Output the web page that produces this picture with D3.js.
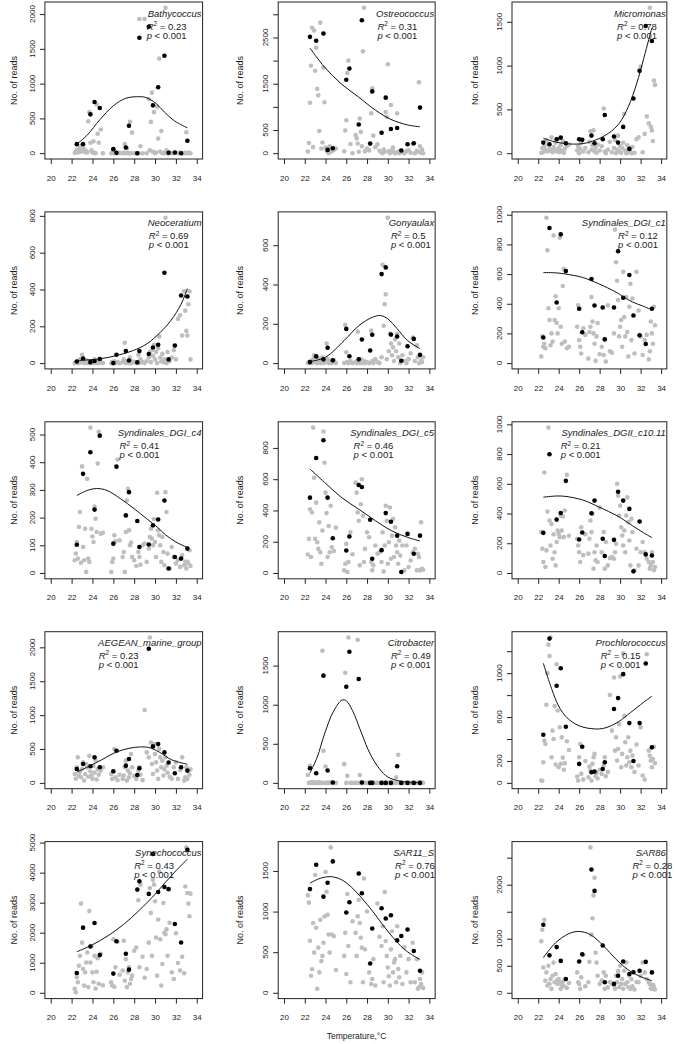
<!DOCTYPE html>
<html><head><meta charset="utf-8">
<script src="https://cdn.jsdelivr.net/npm/d3@7"></script>
<style>
body{margin:0;background:#fff}
svg{display:block}
text{font-family:"Liberation Sans",Arial,sans-serif;fill:#1a1a1a}
</style>
</head><body>
<svg id="chart" width="675" height="1044"></svg>
<script>
// ---------------- DATA ----------------
const TAXA = ["Bathycoccus","Ostreococcus","Micromonas","Neoceratium","Gonyaulax","Syndinales_DGI_c1",
  "Syndinales_DGI_c4","Syndinales_DGI_c5","Syndinales_DGII_c10.11","AEGEAN_marine_group","Citrobacter","Prochlorococcus",
  "Synechococcus","SAR11_S","SAR86"];
const R2_TEXT = ["0.23","0.31","0.78","0.69","0.5","0.12","0.41","0.46","0.21","0.23","0.49","0.15","0.43","0.76","0.28"];
const P_TEXT = "< 0.001";
const X_TICKS = [20,22,24,26,28,30,32,34];

// temperature of the highlighted (black) samples, shared by all panels
const TEMP_BLACK = [22.5,23.1,23.8,24.2,24.7,26.0,26.3,27.2,27.5,28.3,28.5,29.4,29.8,30.3,30.9,31.3,31.9,32.5,33.1];
// temperature of all (grey) samples, shared by all panels
const TEMP_GRAY = [
  22.3,22.4,22.5,22.6,22.7,22.8,22.9,23.0,23.1,23.2,23.3,23.4,23.5,23.6,
  23.7,23.8,23.9,24.0,24.1,24.2,24.3,24.4,24.5,24.6,24.8,25.0,
  25.8,25.9,26.0,26.1,26.2,26.4,26.6,
  26.9,27.0,27.1,27.2,27.3,27.4,27.5,27.6,27.7,27.8,28.0,
  28.2,28.4,28.5,28.6,28.8,29.0,
  29.2,29.4,29.5,29.6,29.7,29.8,29.9,30.0,30.1,30.2,30.3,30.4,30.5,30.6,30.7,30.8,30.9,31.0,31.1,31.2,31.4,31.6,
  31.8,32.0,32.2,32.4,32.6,32.8,32.9,33.0,33.1,33.2,33.3,33.4];

const bathyGray = [5,20,50,10,30,80,20,120,40,60,15,30,10,460, 590,150,40,10,170,5,0,700,280,150,340,0, 0,5,60,0,10,0,5, 0,10,130,0,70,5,0,450,0,295,0, 0,0,1930,100,0,1930, 0,780,40,450,870,20,590,0,10,670,210,1360,20,320,0,5,0,2090,40,0,10,0, 0,5,0,10,0,0,5,300,0,10,0,0];
const bathyBlack = [130,130,558,736,649,58,5,82,394,0,1659,1818,688,947,1400,5,10,0,178];
const bathyFit = [[22.5,130],[23.5,260],[24.7,480],[26.0,680],[27.2,790],[28.5,812],[29.1,802],[30.1,715],[30.9,590],[31.9,460],[33.1,365]];

const ostreoGray = [36,220,1090,1890,2710,130,2650,1780,2280,1390,1250,480,2820,100, 230,1850,1100,120,60,30,0,150,90,40,70,100, 40,490,710,1730,2000,200,0, 390,320,210,30,750,460,150,2200,3140,40,100, 60,860,1400,380,130,190, 50,20,0,80,30,890,780,1920,40,0,1040,60,120,20,0,10,860,30,0,50,20,0, 40,60,10,200,0,50,30,1530,150,10,80,0];
const ostreoBlack = [2513,2428,2585,71,107,1585,1828,621,2870,207,1335,443,1200,521,543,57,193,214,985];
const ostreoFit = [[22.5,2270],[23.9,1860],[25.5,1500],[27.2,1210],[28.8,930],[30.3,730],[31.9,610],[33.1,570]];

const microGray = [5,60,10,80,40,150,20,100,50,30,180,10,70,40, 120,20,160,60,10,90,30,140,5,50,80,100, 30,80,0,50,120,20,60, 10,130,250,40,90,260,20,60,5,100,30, 80,510,20,0,40,130, 10,60,150,0,40,200,20,80,5,60,120,450,30,0,90,10,50,20,0,70,5,160, 180,990,10,220,420,340,1660,300,260,140,830,780];
const microBlack = [121,102,159,178,114,159,152,201,114,159,436,190,121,300,49,625,940,1452,1281];
const microFit = [[22.5,170],[23.8,125],[25.1,105],[26.4,110],[27.6,150],[28.9,230],[29.9,340],[30.8,530],[31.6,790],[32.3,1080],[32.8,1300],[33.1,1430]];

const neoGray = [0,5,0,10,0,20,5,45,10,0,5,15,0,10, 0,5,0,10,0,20,5,0,10,0,5,0, 0,5,0,10,0,5,0, 5,20,110,0,10,5,0,30,0,10,5, 0,45,0,20,5,0, 10,30,60,5,70,40,100,20,60,0,80,145,30,10,50,5,20,790,0,60,10,30, 70,20,240,260,150,390,285,175,150,320,390,20];
const neoBlack = [9,25,5,11,22,0,45,65,14,4,65,49,85,99,491,20,95,367,362];
const neoFit = [[22.5,14],[24.7,23],[26.3,41],[27.9,68],[29.2,104],[30.5,167],[31.5,230],[32.5,320],[33.1,405]];

const gonyGray = [0,5,0,10,0,20,40,5,35,0,10,20,0,5, 30,0,10,5,100,20,0,10,5,0,15,0, 0,195,55,5,0,10,0, 5,0,160,10,0,20,5,0,10,0,5, 0,165,10,0,20,5, 0,30,500,190,300,350,20,740,60,150,100,40,80,10,120,60,150,30,100,0,40,10, 0,20,50,130,10,90,30,0,40,10,5,30];
const gonyBlack = [5,34,19,78,14,174,35,19,120,64,144,453,487,145,135,12,86,123,42];
const gonyFit = [[22.5,8],[24.0,30],[25.8,115],[27.2,190],[28.5,233],[29.3,242],[30.0,225],[30.9,175],[31.9,115],[33.1,73]];

const c1Gray = [45,180,110,130,100,980,760,370,290,120,200,145,860,290, 450,270,200,370,845,245,130,520,635,145,100,110, 245,390,155,110,65,235,190, 30,210,245,445,280,200,130,15,180,270,60, 110,55,155,10,390,80, 70,200,900,680,555,425,180,245,290,110,615,310,180,445,210,45,380,535,155,435,65,615, 355,180,55,155,190,25,80,280,200,130,380,255];
const c1Black = [172,911,408,868,620,366,208,567,388,375,161,375,754,440,594,321,187,129,366];
const c1Fit = [[22.5,610],[23.8,608],[24.7,600],[26.3,578],[27.9,535],[29.6,478],[30.3,448],[31.2,412],[32.2,385],[33.1,358]];

const c4Gray = [46,70,112,52,166,220,37,385,94,46,160,4,340,52, 40,525,160,132,112,240,196,148,395,510,142,145, 4,40,52,136,114,410,118, 58,76,4,148,262,304,154,100,110,58,46, 25,76,58,30,100,106, 40,88,130,160,124,100,195,112,58,290,154,136,100,40,130,76,28,292,220,70,16,94, 58,34,46,22,64,28,40,16,40,34,82,25];
const c4Black = [102,358,436,229,496,106,384,208,292,188,94,103,172,193,262,16,58,52,88];
const c4Fit = [[22.5,280],[23.5,298],[24.4,305],[25.4,298],[26.7,268],[28.0,232],[29.2,196],[30.2,166],[31.0,138],[32.0,112],[33.1,92]];

const c5Gray = [118,218,408,102,387,930,609,218,450,197,154,324,133,59, 271,905,705,514,383,102,300,133,430,165,140,290, 17,59,186,6,70,260,120, 578,514,387,334,49,440,600,366,70,154,260, 229,70,17,49,176,123, 133,70,260,10,176,430,334,59,197,419,91,239,345,102,292,176,133,59,207,112,176,17, 176,38,80,133,154,17,123,102,17,324,27,21];
const c5Black = [482,736,849,482,222,144,233,563,550,341,91,146,383,328,239,6,250,123,239];
const c5Fit = [[22.5,665],[23.9,580],[25.5,485],[27.2,408],[28.8,335],[30.3,272],[31.9,228],[33.1,205]];

const c10Gray = [275,163,74,676,40,152,413,978,353,185,330,96,260,140, 51,208,286,263,241,386,286,380,241,420,660,250, 230,185,140,74,308,120,260, 130,230,353,275,397,29,140,85,185,74,440, 140,275,29,208,51,100, 107,96,140,196,600,520,386,453,308,252,185,286,140,386,509,342,219,51,364,275,18,163, 51,140,208,140,96,74,29,51,140,74,18,40];
const c10Black = [270,799,359,404,620,225,272,402,487,230,114,223,547,487,431,11,346,125,118];
const c10Fit = [[22.5,510],[23.8,518],[24.7,515],[26.4,490],[27.9,445],[29.7,385],[30.3,360],[31.2,318],[32.3,270],[33.1,238]];

const aegeanGray = [130,60,230,377,108,166,83,205,303,34,132,279,230,90, 400,171,110,60,250,150,330,50,200,120,180,230, 132,59,160,499,83,40,120, 59,108,230,328,34,181,83,142,425,230,100, 59,181,230,120,40,1075, 450,377,2145,597,279,132,572,425,303,181,59,499,377,230,328,108,200,377,254,150,90,60, 230,303,59,191,377,34,83,230,59,181,120,200];
const aegeanBlack = [205,279,245,377,230,171,474,254,352,117,215,1980,538,572,450,300,142,230,181];
const aegeanFit = [[22.5,160],[23.8,255],[25.0,350],[26.2,450],[27.5,510],[28.5,530],[29.4,522],[30.4,455],[31.6,340],[33.1,275]];

const citroGray = [100,0,220,0,10,0,0,5,0,0,0,10,0,0, 1690,410,0,210,0,0,0,5,0,0,0,0, 240,1410,0,90,1860,0,0, 0,0,1830,0,100,0,0,0,0,0,0, 0,0,0,0,0,0, 0,0,0,0,0,0,0,0,0,0,0,0,0,0,0,70,0,360,0,0,0,0, 0,0,0,0,0,0,0,0,0,0,0,0];
const citroBlack = [187,124,1372,158,5,1231,1678,1329,5,0,0,0,0,0,213,0,0,0,0];
const citroFit = [[22.5,125],[23.2,330],[23.9,625],[24.8,925],[25.6,1060],[26.0,1050],[26.6,925],[27.5,625],[28.3,370],[29.2,180],[30.0,75],[31.3,20],[33.1,2]];

const prochGray = [21,20,188,385,354,712,1000,1260,1157,1325,233,476,400,700, 167,1081,660,142,506,173,415,230,120,180,380,300, 58,21,233,354,82,30,200, 52,148,112,21,173,233,264,60,90,40,120, 82,158,233,60,100,800, 476,960,294,415,203,309,536,970,142,264,1180,612,370,158,233,415,188,294,142,250,100,350, 158,506,67,30,1173,294,248,203,142,218,330,180];
const prochBlack = [439,1315,885,1045,512,173,330,97,103,127,188,673,773,991,545,200,545,1088,324];
const prochFit = [[22.5,1090],[23.3,860],[24.0,700],[24.8,595],[26.0,520],[27.5,492],[28.5,500],[29.8,555],[31.0,640],[32.3,735],[33.1,790]];

const synGray = [130,20,520,350,900,1230,2970,1670,790,240,680,1010,1340,190, 2720,1010,1560,680,350,1230,140,700,1150,300,1300,250, 350,240,1780,200,850,1700,600, 740,1730,400,1120,190,680,850,300,460,570,1400, 1510,3080,850,3600,1200,500, 790,1670,3490,2660,1230,3760,3600,3050,1840,570,2440,4040,1780,240,960,2990,2000,1950,2110,1230,2330,680, 460,1980,990,740,1200,650,3540,4840,3320,2970,2550,3300];
const synBlack = [661,2169,1541,2323,1255,639,1718,1299,771,3435,3710,3292,4624,3358,3523,3450,2290,1674,4760];
const synFit = [[22.5,1365],[24.0,1600],[25.5,1900],[27.0,2280],[28.5,2750],[30.0,3280],[31.0,3680],[32.0,4060],[33.1,4450]];

const sar11Gray = [1200,1110,640,210,290,860,495,1450,800,50,556,251,900,390, 454,616,940,1488,1245,961,718,495,1790,718,700,280, 454,738,231,1216,576,130,880, 738,454,941,1143,860,677,556,130,1407,535,1000, 251,109,170,414,89,1100, 690,576,819,130,1240,637,454,312,203,89,535,758,251,373,414,130,819,292,191,454,109,560, 251,414,130,616,130,414,49,69,170,109,251,60];
const sar11Black = [1277,1577,1184,1354,1618,989,1115,1468,1225,361,791,1040,915,955,645,700,779,515,272];
const sar11Fit = [[22.5,1350],[23.5,1410],[24.5,1430],[25.5,1395],[26.5,1300],[27.5,1165],[28.5,1010],[29.5,840],[30.5,680],[31.5,545],[32.3,470],[33.1,410]];

const sar86Gray = [955,1167,468,1350,225,377,134,499,164,255,73,316,559,195, 347,225,164,255,195,73,150,200,120,250,90,180, 377,195,164,73,286,700,120, 195,572,2690,1076,1380,1800,2130,742,559,316,164, 225,377,73,316,100,200, 164,134,73,316,195,400,103,499,164,255,73,407,164,559,195,103,316,73,250,120,60,200, 195,316,559,377,255,195,164,85,73,150,110,60];
const sar86Black = [1259,693,845,590,255,578,711,2280,1885,875,195,164,316,578,347,380,407,572,377];
const sar86Fit = [[22.5,650],[23.7,925],[25.0,1095],[26.0,1135],[27.1,1075],[28.4,865],[29.6,620],[30.9,410],[32.1,290],[33.1,225]];

// y-axis tick values and the tick labels that are printed
const Y_TICKS = [
  [0,500,1000,1500,2000],[0,500,1000,1500,2000,2500,3000],[0,500,1000,1500],
  [0,200,400,600,800],[0,200,400,600],[0,200,400,600,800,1000],
  [0,100,200,300,400,500],[0,200,400,600,800],[0,200,400,600,800,1000],
  [0,500,1000,1500,2000],[0,500,1000,1500],[0,200,400,600,800,1000,1200],
  [0,1000,2000,3000,4000,5000],[0,500,1000,1500],[0,500,1000,1500,2000,2500]];
const Y_LABELS = [
  [0,500,1000,1500,2000],[0,500,1500,2500],[0,500,1000,1500],
  [0,200,400,600,800],[0,200,400,600],[0,200,400,600,800,1000],
  [0,100,200,300,400,500],[0,200,400,600,800],[0,200,400,600,800,1000],
  [0,500,1000,1500,2000],[0,500,1000,1500],[0,200,600,1000],
  [0,1000,2000,3000,4000,5000],[0,500,1000,1500],[0,500,1000,2000]];

const GRAYS = [bathyGray,ostreoGray,microGray,neoGray,gonyGray,c1Gray,c4Gray,c5Gray,c10Gray,aegeanGray,citroGray,prochGray,synGray,sar11Gray,sar86Gray];
const BLACKS = [bathyBlack,ostreoBlack,microBlack,neoBlack,gonyBlack,c1Black,c4Black,c5Black,c10Black,aegeanBlack,citroBlack,prochBlack,synBlack,sar11Black,sar86Black];
const FITS = [bathyFit,ostreoFit,microFit,neoFit,gonyFit,c1Fit,c4Fit,c5Fit,c10Fit,aegeanFit,citroFit,prochFit,synFit,sar11Fit,sar86Fit];

// ---------------- LAYOUT ----------------
const COL_LEFT = [44.9, 278.2, 512.0];
const COL_K = [10.43, 10.38, 10.24];          // px per degree
const ROW_TOP = [2, 211.9, 421.8, 631.7, 841.6];
const PLOT_H = 157;
const YLAB_OFF = [31.5, 38, 37];
const STAT_X = [29.2,29.0,29.7,29.4,30.3,29.8,26.6,26.7,24.2,24.6,30.3,28.1,28.0,30.7,31.2];
const XLIM = [19.44, 34.56];

const svg = d3.select("#chart");

TAXA.forEach((name, i) => {
  const col = i % 3, row = Math.floor(i / 3);
  const left = COL_LEFT[col], top = ROW_TOP[row];
  const w = (XLIM[1] - XLIM[0]) * COL_K[col];
  const bottom = top + PLOT_H;
  const gray = TEMP_GRAY.map((t, j) => [t, GRAYS[i][j]]).filter(d => d[1] !== undefined);
  const black = TEMP_BLACK.map((t, j) => [t, BLACKS[i][j]]);
  const M = d3.max(gray.concat(black), d => d[1]);
  const x = d3.scaleLinear().domain(XLIM).range([left, left + w]);
  const y = d3.scaleLinear().domain([-0.04 * M, 1.04 * M]).range([bottom, top]);
  const g = svg.append("g");

  // points
  g.append("g").selectAll("circle").data(gray).join("circle")
    .attr("cx", d => x(d[0])).attr("cy", d => y(d[1])).attr("r", 2.3).attr("fill", "#bebebe");
  g.append("g").selectAll("circle").data(black).join("circle")
    .attr("cx", d => x(d[0])).attr("cy", d => y(d[1])).attr("r", 2.3).attr("fill", "#000");

  // fitted curve
  g.append("path").datum(FITS[i])
    .attr("d", d3.line().x(d => x(d[0])).y(d => y(d[1])).curve(d3.curveCatmullRom.alpha(0.5)))
    .attr("fill", "none").attr("stroke", "#111").attr("stroke-width", 1);

  // box
  g.append("rect").attr("x", left).attr("y", top).attr("width", w).attr("height", PLOT_H)
    .attr("fill", "none").attr("stroke", "#222").attr("stroke-width", 1);

  // x axis
  const xa = g.append("g").attr("transform", `translate(0,${bottom})`)
    .call(d3.axisBottom(x).tickValues(X_TICKS).tickSize(5).tickSizeOuter(0).tickPadding(11));
  xa.select(".domain").remove();
  xa.selectAll("line").attr("stroke", "#222");
  xa.selectAll("text").style("font-size", "8px").style("font-family", "Liberation Sans, Arial, sans-serif").attr("fill", "#1a1a1a");

  // y axis
  const ya = g.append("g").attr("transform", `translate(${left},0)`)
    .call(d3.axisLeft(y).tickValues(Y_TICKS[i]).tickSize(5).tickSizeOuter(0).tickFormat(""));
  ya.select(".domain").remove();
  ya.selectAll("line").attr("stroke", "#222");
  g.append("g").selectAll("text").data(Y_LABELS[i]).join("text")
    .attr("transform", d => `translate(${left - 9.9},${y(d)}) rotate(-90)`)
    .attr("text-anchor", "middle").style("font-size", "8px").text(d => String(d));

  // y title
  g.append("text")
    .attr("transform", `translate(${left - YLAB_OFF[col]},${(top + bottom) / 2}) rotate(-90)`)
    .attr("dy", "0.35em").attr("text-anchor", "middle").style("font-size", "9px").text("No. of reads");

  // annotations
  g.append("text").attr("x", left + w - 1).attr("y", top + 14.5).attr("text-anchor", "end")
    .style("font-size", "9.5px").style("font-style", "italic").text(name);
  const r2 = g.append("text").attr("x", x(STAT_X[i])).attr("y", top + 27.5).style("font-size", "9.5px");
  r2.append("tspan").style("font-style", "italic").text("R");
  r2.append("tspan").attr("dy", -3.8).style("font-size", "6.5px").text("2");
  r2.append("tspan").attr("dy", 3.8).text(" = " + R2_TEXT[i]);
  const pt = g.append("text").attr("x", x(STAT_X[i])).attr("y", top + 36.5).style("font-size", "9.5px");
  pt.append("tspan").style("font-style", "italic").text("p");
  pt.append("tspan").text(" " + P_TEXT);
});

svg.append("text").attr("x", 356.5).attr("y", 1039).attr("text-anchor", "middle")
  .style("font-size", "8.5px").text("Temperature,°C");
</script>
</body></html>
